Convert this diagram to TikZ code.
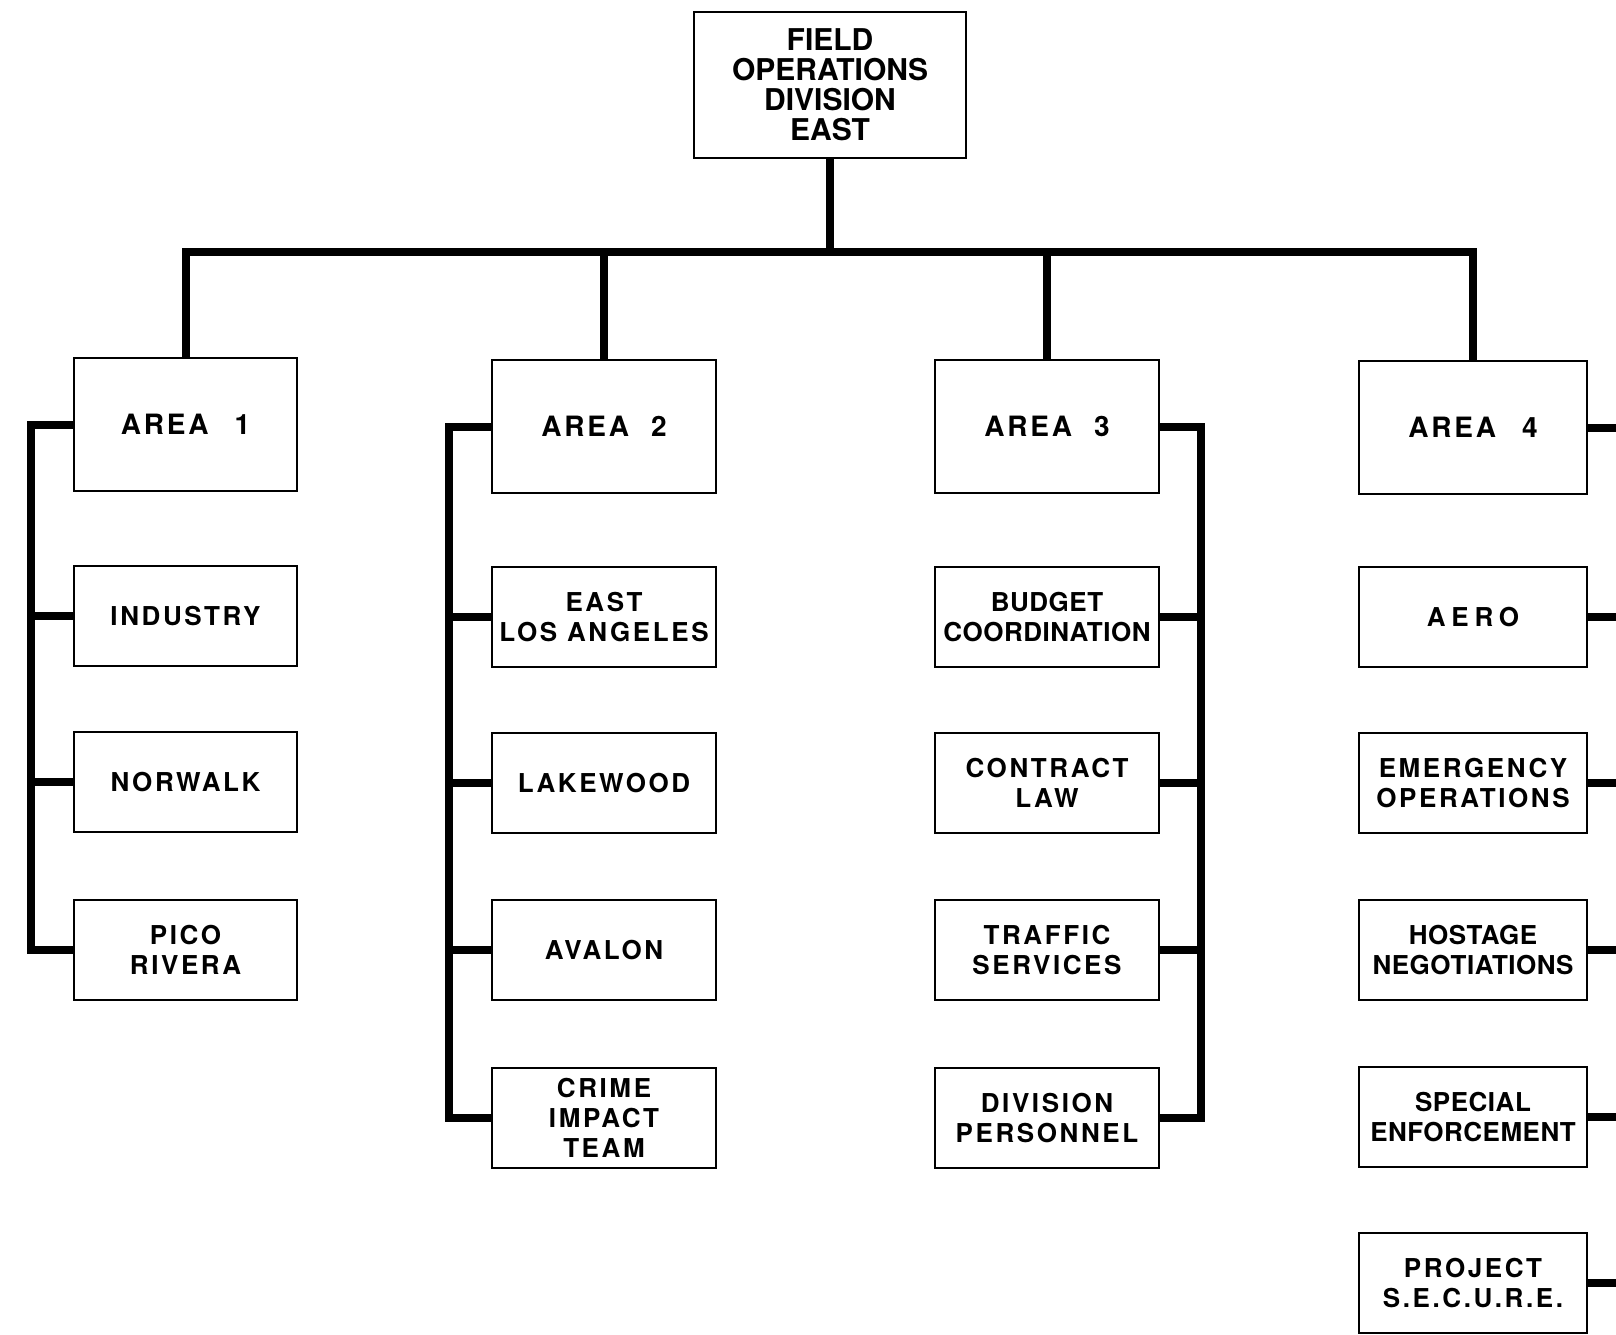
\documentclass[tikz,border=0pt]{standalone}
\usepackage{fontspec}
\setmainfont{TeX Gyre Heros}
\newfontfamily\lsA{TeX Gyre Heros}[LetterSpace=10]
\newfontfamily\lsT{TeX Gyre Heros}[LetterSpace=2]
\newfontfamily\lsW{TeX Gyre Heros}[LetterSpace=22]
\usetikzlibrary{backgrounds}
\begin{document}
\begin{tikzpicture}[x=1pt,y=-1pt,
  box/.style={draw=black,line width=2.2pt,fill=white,inner sep=0pt,align=center,
    minimum height=100pt,font=\lsA\bfseries\fontsize{26}{30}\selectfont},
  tight/.style={font=\lsT\bfseries\fontsize{26}{30}\selectfont},
  wide/.style={font=\lsW\bfseries\fontsize{26}{30}\selectfont},
  areabox/.style={box,minimum height=133pt,font=\lsA\bfseries\fontsize{28}{30}\selectfont},
  titlebox/.style={box,minimum width=272pt,minimum height=146pt,font=\bfseries\fontsize{30}{30}\selectfont},
  conn/.style={line width=8pt,line join=miter,line cap=rect},
  c1/.style={minimum width=223pt},
  c2/.style={minimum width=224pt},
  c3/.style={minimum width=224pt},
  c4/.style={minimum width=228pt}]
\useasboundingbox (0,0) rectangle (1616,1334);

% top
\node[titlebox] (top) at (830,85) {FIELD\\OPERATIONS\\DIVISION\\EAST};

% areas
\node[areabox,c1] (area1) at (185.5,424.5) {AREA\hspace{26pt}1};
\node[areabox,c2] (area2) at (604,426.5) {AREA\hspace{22pt}2};
\node[areabox,c3] (area3) at (1047,426.5) {AREA\hspace{22pt}3};
\node[areabox,c4] (area4) at (1473,427.5) {AREA\hspace{26pt}4};

% column 1
\node[box,c1] (industry) at (185.5,616) {INDUSTRY};
\node[box,c1] (norwalk) at (185.5,782) {NORWALK};
\node[box,c1] (pico) at (185.5,950) {PICO\\RIVERA};

% column 2
\node[box,c2] (eastla) at (604,617) {EAST\\LOS ANGELES};
\node[box,c2] (lakewood) at (604,783) {LAKEWOOD};
\node[box,c2] (avalon) at (604,950) {AVALON};
\node[box,c2] (crime) at (604,1118) {CRIME\\IMPACT\\TEAM};

% column 3
\node[box,c3,tight] (budget) at (1047,617) {BUDGET\\COORDINATION};
\node[box,c3] (contract) at (1047,783) {CONTRACT\\LAW};
\node[box,c3] (traffic) at (1047,950) {TRAFFIC\\SERVICES};
\node[box,c3] (divpers) at (1047,1118) {DIVISION\\PERSONNEL};

% column 4
\node[box,c4,wide] (aero) at (1473,617) {AERO};
\node[box,c4] (emerg) at (1473,783) {EMERGENCY\\OPERATIONS};
\node[box,c4,tight] (hostage) at (1473,950) {HOSTAGE\\NEGOTIATIONS};
\node[box,c4,tight] (special) at (1473,1117) {SPECIAL\\ENFORCEMENT};
\node[box,c4] (project) at (1473,1283) {PROJECT\\S.E.C.U.R.E.};

% helper coordinates
\coordinate (bus) at (0,252);
\coordinate (s1) at (31,0);
\coordinate (s2) at (449,0);
\coordinate (s3) at (1201,0);
\coordinate (e4) at (1620,0);

\begin{pgfonlayer}{background}
\fill[white] (0,0) rectangle (1616,1334);
% bus
\draw[conn] (area1.north) -- (area1.north |- bus) -- (area4.north |- bus) -- (area4.north);
\draw[conn] (top.south) -- (top.south |- bus);
\draw[conn] (area2.north) -- (area2.north |- bus);
\draw[conn] (area3.north) -- (area3.north |- bus);
% column 1
\draw[conn] (area1.west) -- (area1.west -| s1) -- (pico.west -| s1) -- (pico.west);
\draw[conn] (industry.west) -- (industry.west -| s1);
\draw[conn] (norwalk.west) -- (norwalk.west -| s1);
% column 2
\draw[conn] (area2.west) -- (area2.west -| s2) -- (crime.west -| s2) -- (crime.west);
\draw[conn] (eastla.west) -- (eastla.west -| s2);
\draw[conn] (lakewood.west) -- (lakewood.west -| s2);
\draw[conn] (avalon.west) -- (avalon.west -| s2);
% column 3
\draw[conn] (area3.east) -- (area3.east -| s3) -- (divpers.east -| s3) -- (divpers.east);
\draw[conn] (budget.east) -- (budget.east -| s3);
\draw[conn] (contract.east) -- (contract.east -| s3);
\draw[conn] (traffic.east) -- (traffic.east -| s3);
% column 4
\draw[conn] (area4.east) -- (area4.east -| e4);
\draw[conn] (aero.east) -- (aero.east -| e4);
\draw[conn] (emerg.east) -- (emerg.east -| e4);
\draw[conn] (hostage.east) -- (hostage.east -| e4);
\draw[conn] (special.east) -- (special.east -| e4);
\draw[conn] (project.east) -- (project.east -| e4);
\end{pgfonlayer}
\end{tikzpicture}
\end{document}
